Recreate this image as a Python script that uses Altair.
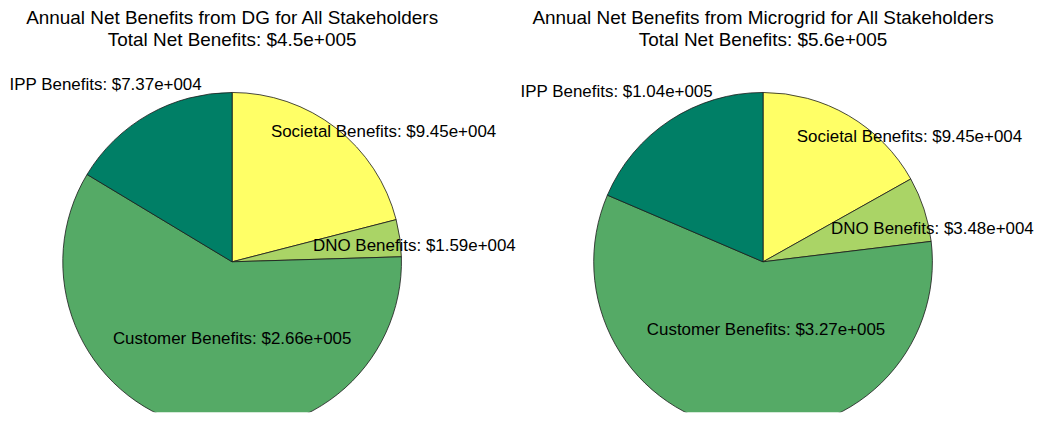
import altair as alt
import pandas as pd

# ---------------- data ----------------
categories = ["Societal Benefits", "DNO Benefits", "Customer Benefits", "IPP Benefits"]
dg_values = [94500, 15900, 266000, 73700]
mg_values = [94500, 34800, 327000, 104000]
panel_names = ["DG", "Microgrid"]
slice_colors = ["#ffff66", "#aad466", "#55aa66", "#007f66"]

# ---------------- layout (pixels) ----------------
W, H = 450, 356
PIE_R = 170
CX, CY = W / 2, 205
# label offsets from the pie centre (dx, dy), in slice order
dg_label_offsets = [(152, -130), (183, -16), (0, 78), (-127, -177)]
mg_label_offsets = [(147, -125), (170, -33), (3, 68), (-147, -170)]
FONT = "Liberation Sans"


def matlab_g(v, digits):
    s = f"{v:.{digits}e}"
    mant, exp = s.split("e")
    mant = mant.rstrip("0").rstrip(".") if "." in mant else mant
    sign = "+" if int(exp) >= 0 else "-"
    return f"{mant}e{sign}{abs(int(exp)):03d}"


def panel(name, values, offsets):
    df = pd.DataFrame({
        "category": categories,
        "value": values,
        "idx": list(range(len(categories))),
    })
    df["label"] = [f"{c}: ${matlab_g(v, 2)}" for c, v in zip(categories, values)]
    df["lx"] = [CX + o[0] for o in offsets]
    df["ly"] = [CY + o[1] for o in offsets]
    total = sum(values)

    base = alt.Chart(df)
    arcs = base.mark_arc(outerRadius=PIE_R, stroke="#1a1a1a", strokeWidth=0.8, clip=True).encode(
        theta=alt.Theta("value:Q", stack=True),
        color=alt.Color("category:N", scale=alt.Scale(domain=categories, range=slice_colors), legend=None),
        order=alt.Order("idx:Q", sort="ascending"),
        x=alt.value(CX),
        y=alt.value(CY),
    )
    labels = base.mark_text(font=FONT, fontSize=17, color="black", align="center", baseline="middle").encode(
        x=alt.X("lx:Q", scale=None),
        y=alt.Y("ly:Q", scale=None),
        text="label:N",
    )
    title = alt.TitleParams(
        text=[f"Annual Net Benefits from {name} for All Stakeholders",
              f"Total Net Benefits: ${matlab_g(total, 1)}"],
        font=FONT, fontSize=19, fontWeight="normal", color="black",
        anchor="middle", frame="group", lineHeight=22, offset=8,
    )
    return alt.layer(arcs, labels).properties(width=W, height=H, title=title)


left = panel(panel_names[0], dg_values, dg_label_offsets)
right = panel(panel_names[1], mg_values, mg_label_offsets)

chart = alt.hconcat(left, right, spacing=83, bounds="flush").properties(
    padding={"left": 0, "top": 0, "right": 0, "bottom": 0},
    background="white",
).configure_view(stroke=None)

chart.save("out.html", embed_options={"renderer": "svg", "actions": False})
